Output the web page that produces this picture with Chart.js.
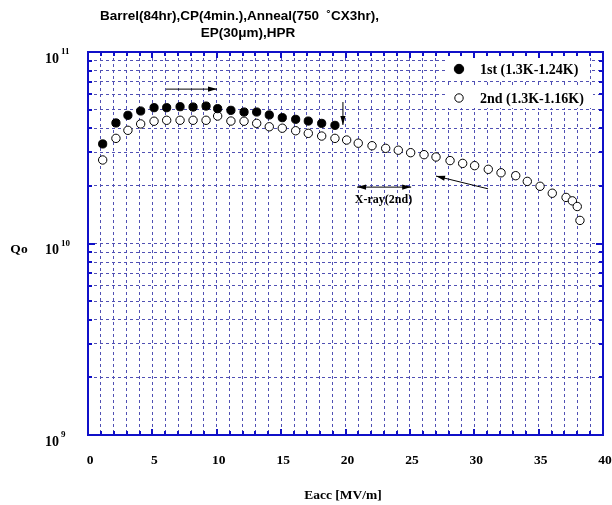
<!DOCTYPE html>
<html><head><meta charset="utf-8">
<script src="https://cdn.jsdelivr.net/npm/chart.js@4"></script>
<style>html,body{margin:0;padding:0;background:#fff}#wrap{width:612px;height:505px}</style>
</head><body><div id="wrap"><canvas id="c" width="612" height="505"></canvas></div>
<script>
// ---- data ----
const firstE = [1.14,2.17,3.1,4.09,5.13,6.11,7.15,8.16,9.17,10.07,11.1,12.12,13.1,14.08,15.09,16.13,17.11,18.15,19.18];
const firstQ = [3.31e10,4.26e10,4.67e10,4.92e10,5.12e10,5.12e10,5.18e10,5.16e10,5.22e10,5.06e10,4.96e10,4.86e10,4.86e10,4.69e10,4.54e10,4.45e10,4.36e10,4.24e10,4.14e10];
const secondE = [1.14,2.17,3.1,4.09,5.13,6.11,7.15,8.16,9.17,10.07,11.1,12.12,13.1,14.08,15.09,16.13,17.11,18.15,19.18,20.09,20.99,22.06,23.12,24.1,25.06,26.1,27.03,28.12,29.1,30.03,31.09,32.08,33.22,34.12,35.11,36.06,37.13,37.62,38.0,38.21];
const secondQ = [2.73e10,3.54e10,3.9e10,4.21e10,4.35e10,4.4e10,4.4e10,4.4e10,4.4e10,4.63e10,4.36e10,4.35e10,4.24e10,4.07e10,4.0e10,3.88e10,3.76e10,3.64e10,3.54e10,3.47e10,3.34e10,3.24e10,3.14e10,3.07e10,2.98e10,2.91e10,2.83e10,2.71e10,2.62e10,2.55e10,2.44e10,2.34e10,2.26e10,2.11e10,1.99e10,1.83e10,1.74e10,1.67e10,1.56e10,1.32e10];
const seriesLabels = ['1st (1.3K-1.24K)', '2nd (1.3K-1.16K)'];
const xTickLabels = [0,5,10,15,20,25,30,35,40];
const yTickExponents = [9,10,11];
const titleLines = ['Barrel(84hr),CP(4min.),Anneal(750  \u02DACX3hr),', 'EP(30\u03BCm),HPR'];
const xAxisTitle = 'Eacc [MV/m]';
const yAxisTitle = 'Qo';
const annotationText = 'X-ray(2nd)';
// annotation arrows in data coordinates [x1,y1,x2,y2, heads]
const arrows = [
  [6.06, 6.4e10, 10.02, 6.4e10, 'end'],
  [19.8, 5.48e10, 19.8, 4.16e10, 'end'],
  [20.9, 1.97e10, 25.1, 1.97e10, 'both'],
  [31.07, 1.93e10, 27.03, 2.25e10, 'end']
];
const annotationPos = [22.95, 1.69e10];

// y ticks: 1..9 x 10^n
const yTicks = [];
for (let e = yTickExponents[0]; e < yTickExponents[yTickExponents.length-1]; e++)
  for (let m = 1; m <= 9; m++) yTicks.push(m * Math.pow(10, e));
yTicks.push(Math.pow(10, yTickExponents[yTickExponents.length-1]));

const FRAME = '#1010c8';
const GRID = '#5050b4';
const SERIF = '"Liberation Serif","DejaVu Serif",serif';
const SANS = '"Liberation Sans",Arial,sans-serif';

function arrowHead(ctx, x1, y1, x2, y2) {
  const a = Math.atan2(y2 - y1, x2 - x1);
  const L = 9, W = 2.6;
  ctx.beginPath();
  ctx.moveTo(x2, y2);
  ctx.lineTo(x2 - L*Math.cos(a) + W*Math.sin(a), y2 - L*Math.sin(a) - W*Math.cos(a));
  ctx.lineTo(x2 - L*Math.cos(a) - W*Math.sin(a), y2 - L*Math.sin(a) + W*Math.cos(a));
  ctx.closePath();
  ctx.fill();
}

const decor = {
  id: 'decor',
  beforeDraw(chart) {
    const ctx = chart.ctx;
    ctx.save(); ctx.fillStyle = '#fff'; ctx.fillRect(0, 0, chart.width, chart.height); ctx.restore();
  },
  beforeDatasetsDraw(chart) {
    const ctx = chart.ctx, a = chart.chartArea;
    ctx.save();
    ctx.fillStyle = '#fff';
    ctx.fillRect(a.right - 157, a.top + 6, 143, 22);
    ctx.fillRect(a.right - 157, a.top + 34, 147, 22);
    ctx.restore();
  },
  afterDraw(chart) {
    const ctx = chart.ctx, a = chart.chartArea;
    const xs = chart.scales.x, ys = chart.scales.y;
    ctx.save();
    // inward ticks
    ctx.strokeStyle = FRAME; ctx.lineWidth = 2;
    ctx.beginPath();
    for (let v = 0; v <= 40; v++) {
      const px = Math.round(xs.getPixelForValue(v));
      const L = (v % 5 === 0) ? 6 : 4;
      ctx.moveTo(px, a.bottom); ctx.lineTo(px, a.bottom - L);
      ctx.moveTo(px, a.top); ctx.lineTo(px, a.top + L);
    }
    yTicks.forEach(v => {
      const py = Math.round(ys.getPixelForValue(v));
      const major = Math.abs(Math.log10(v) - Math.round(Math.log10(v))) < 1e-9;
      const L = major ? 7 : 4;
      ctx.moveTo(a.left, py); ctx.lineTo(a.left + L, py);
      ctx.moveTo(a.right, py); ctx.lineTo(a.right - L, py);
    });
    ctx.stroke();
    // frame
    ctx.strokeRect(a.left, a.top, a.right - a.left, a.bottom - a.top);

    ctx.fillStyle = '#000';
    // x tick labels
    ctx.font = 'bold 13.5px ' + SERIF;
    ctx.textAlign = 'center'; ctx.textBaseline = 'middle';
    xTickLabels.forEach(v => ctx.fillText(String(v), xs.getPixelForValue(v) + 2, 461));
    // y tick labels with superscripts
    yTickExponents.forEach(e => {
      const py = ys.getPixelForValue(Math.pow(10, e));
      ctx.font = 'bold 14px ' + SERIF;
      ctx.textAlign = 'right'; ctx.textBaseline = 'middle';
      ctx.fillText('10', 59, py + 7);
      ctx.font = 'bold 9px ' + SERIF;
      ctx.textAlign = 'left';
      ctx.fillText(String(e), 61, py);
    });
    // axis titles
    ctx.font = 'bold 13.5px ' + SERIF;
    ctx.textAlign = 'center'; ctx.textBaseline = 'middle';
    ctx.fillText(xAxisTitle, 343, 496);
    ctx.fillText(yAxisTitle, 19, 250);
    // title
    ctx.font = 'bold 13.5px ' + SANS;
    ctx.textAlign = 'left';
    ctx.fillText(titleLines[0], 100, 16);
    ctx.textAlign = 'center';
    ctx.fillText(titleLines[1], 248, 33);

    // annotations
    ctx.strokeStyle = '#000'; ctx.fillStyle = '#000'; ctx.lineWidth = 1;
    arrows.forEach(([x1, y1, x2, y2, h]) => {
      const p1 = [xs.getPixelForValue(x1), ys.getPixelForValue(y1)];
      const p2 = [xs.getPixelForValue(x2), ys.getPixelForValue(y2)];
      ctx.beginPath(); ctx.moveTo(p1[0], p1[1]); ctx.lineTo(p2[0], p2[1]); ctx.stroke();
      arrowHead(ctx, p1[0], p1[1], p2[0], p2[1]);
      if (h === 'both') arrowHead(ctx, p2[0], p2[1], p1[0], p1[1]);
    });
    ctx.font = 'bold 12px ' + SERIF;
    ctx.textAlign = 'center'; ctx.textBaseline = 'middle';
    ctx.fillText(annotationText, xs.getPixelForValue(annotationPos[0]), ys.getPixelForValue(annotationPos[1]));

    // legend
    const ds = chart.data.datasets;
    const lx = a.right - 144, ly = [a.top + 17, a.top + 46];
    ds.forEach((d, i) => {
      ctx.beginPath();
      ctx.arc(lx, ly[i], d.pointRadius + (i === 0 ? 0.6 : 0), 0, Math.PI * 2);
      ctx.fillStyle = d.pointBackgroundColor; ctx.fill();
      ctx.strokeStyle = d.pointBorderColor; ctx.lineWidth = d.pointBorderWidth; ctx.stroke();
      ctx.fillStyle = '#000';
      ctx.font = 'bold 14px ' + SERIF;
      ctx.textAlign = 'left'; ctx.textBaseline = 'middle';
      ctx.fillText(d.label, lx + 21, ly[i] + 1);
    });
    ctx.restore();
  }
};

new Chart(document.getElementById('c'), {
  type: 'scatter',
  data: {
    datasets: [
      { label: seriesLabels[0], data: firstE.map((e, i) => ({x: e, y: firstQ[i]})),
        pointRadius: 4.1, pointBackgroundColor: '#000', pointBorderColor: '#000', pointBorderWidth: 1, showLine: false },
      { label: seriesLabels[1], data: secondE.map((e, i) => ({x: e, y: secondQ[i]})),
        pointRadius: 4.2, pointBackgroundColor: '#fff', pointBorderColor: '#000', pointBorderWidth: 1, showLine: false }
    ]
  },
  options: {
    responsive: false, animation: false, devicePixelRatio: 1,
    layout: { padding: { left: 0, top: 52, right: 9, bottom: 0 } },
    plugins: { legend: { display: false }, tooltip: { enabled: false }, title: { display: false } },
    scales: {
      x: {
        type: 'linear', min: 0, max: 40,
        afterFit(s) { s.height = 70; },
        afterBuildTicks(s) { const t = []; for (let v = 0; v <= 40; v++) t.push({ value: v }); s.ticks = t; },
        ticks: { display: false },
        grid: { color: GRID, lineWidth: 1, drawTicks: false },
        border: { display: false, dash: [3, 3] }
      },
      y: {
        type: 'logarithmic', min: 1e9, max: 1e11,
        afterFit(s) { s.width = 88; },
        afterBuildTicks(s) { s.ticks = yTicks.map(v => ({ value: v })); },
        ticks: { display: false },
        grid: { color: GRID, lineWidth: 1, drawTicks: false },
        border: { display: false, dash: [3, 3] }
      }
    }
  },
  plugins: [decor]
});
</script>
</body></html>
